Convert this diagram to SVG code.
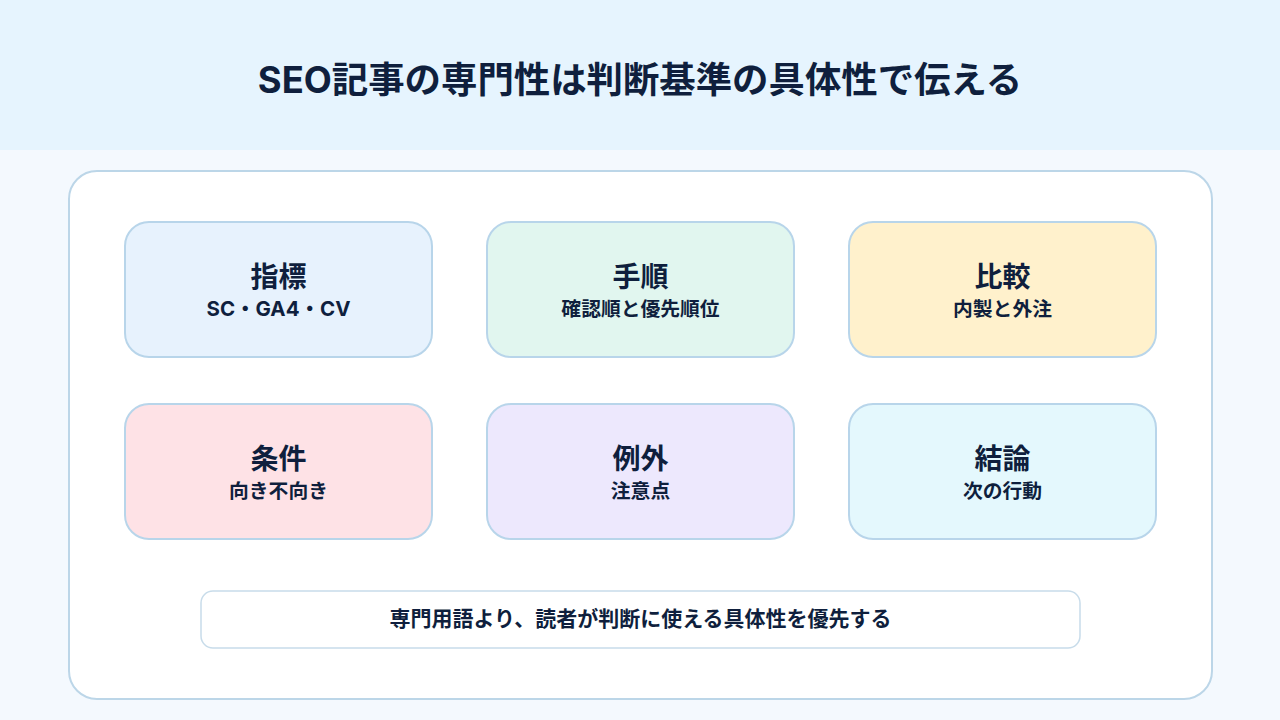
<svg xmlns="http://www.w3.org/2000/svg" width="1280" height="720" viewBox="0 0 1280 720">
<style>
text{font-family:Inter,"Noto Sans CJK JP","Noto Sans",sans-serif;fill:#0f1f3d;font-weight:700;text-anchor:middle}
.card{stroke:#b8d5ea;stroke-width:2}
.t{font-size:28px}
.s{font-size:19.8px}
</style>
<rect x="0" y="0" width="1280" height="720" fill="#f4f9fe"/>
<rect x="0" y="0" width="1280" height="150" fill="#e6f4fe"/>
<text x="640" y="93" style="font-size:36.4px">SEO記事の専門性は判断基準の具体性で伝える</text>
<rect x="69" y="171" width="1143" height="528" rx="28" fill="#ffffff" stroke="#bcd6e8" stroke-width="2"/>
<g id="n1"><rect class="card" x="125" y="222" width="307" height="135" rx="24" fill="#e7f2fd"/><text class="t" x="278.5" y="287">指標</text><text class="s" x="278.5" y="316" style="font-size:20.5px">SC・GA4・CV</text></g>
<g id="n2"><rect class="card" x="487" y="222" width="307" height="135" rx="24" fill="#e1f6ef"/><text class="t" x="640.5" y="287">手順</text><text class="s" x="640.5" y="316">確認順と優先順位</text></g>
<g id="n3"><rect class="card" x="849" y="222" width="307" height="135" rx="24" fill="#fff1cc"/><text class="t" x="1002.5" y="287">比較</text><text class="s" x="1002.5" y="316">内製と外注</text></g>
<g id="n4"><rect class="card" x="125" y="404" width="307" height="135" rx="24" fill="#fee2e6"/><text class="t" x="278.5" y="469">条件</text><text class="s" x="278.5" y="498">向き不向き</text></g>
<g id="n5"><rect class="card" x="487" y="404" width="307" height="135" rx="24" fill="#ede8fd"/><text class="t" x="640.5" y="469">例外</text><text class="s" x="640.5" y="498">注意点</text></g>
<g id="n6"><rect class="card" x="849" y="404" width="307" height="135" rx="24" fill="#e4f8fd"/><text class="t" x="1002.5" y="469">結論</text><text class="s" x="1002.5" y="498">次の行動</text></g>
<g id="note"><rect x="201" y="591" width="879" height="57" rx="12" fill="#ffffff" stroke="#c8dcea" stroke-width="1.5"/><text x="640.5" y="626" style="font-size:21px">専門用語より、読者が判断に使える具体性を優先する</text></g>
<g id="connectors"></g>
</svg>
